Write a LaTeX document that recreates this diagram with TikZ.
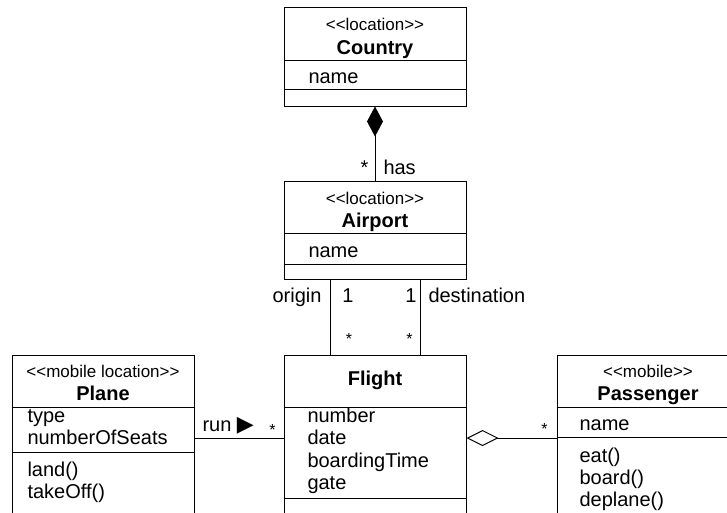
\documentclass[tikz,border=0pt]{standalone}
\usepackage{fontspec}
\setmainfont{Liberation Sans}[Ligatures=TeXOff]
\newfontfamily\dejavu{DejaVu Sans}
\usetikzlibrary{arrows.meta}
\begin{document}
\begin{tikzpicture}[x=1pt,y=-1pt, line width=1pt,
  classbox/.style={draw, rectangle, minimum width=182pt, inner sep=0pt},
  stereo/.style={font=\fontsize{17}{17}\selectfont, inner sep=0pt, anchor=base},
  cname/.style={font=\fontsize{20}{20}\selectfont\bfseries, inner sep=0pt, anchor=base},
  member/.style={font=\fontsize{20}{20}\selectfont, inner sep=0pt, anchor=base west},
  lbl/.style={font=\fontsize{20}{20}\selectfont, inner sep=0pt},
  mult/.style={font=\fontsize{16}{16}\selectfont, inner sep=0pt, anchor=base},
]
\useasboundingbox (0,0) rectangle (727,512);
\clip (0,0) rectangle (727,512);

% Country
\node[classbox, minimum height=99pt] (country) at (375,56.5) {};
\draw ([yshift=-54pt]country.north west) -- ([yshift=-54pt]country.north east);
\draw ([yshift=-83pt]country.north west) -- ([yshift=-83pt]country.north east);
\node[stereo] (countrys) at (375,30) {<<location>>};
\node[cname] (countryn) at (375,54) {Country};
\node[member] (countrya) at (308,83) {name};

% Airport
\node[classbox, minimum height=98pt] (airport) at (375,230) {};
\draw ([yshift=-53pt]airport.north west) -- ([yshift=-53pt]airport.north east);
\draw ([yshift=-84pt]airport.north west) -- ([yshift=-84pt]airport.north east);
\node[stereo] (airports) at (375,204) {<<location>>};
\node[cname] (airportn) at (375,227.5) {Airport};
\node[member] (airporta) at (308,257) {name};

% Plane
\node[classbox, minimum height=166pt] (plane) at (103,438) {};
\draw ([yshift=-53pt]plane.north west) -- ([yshift=-53pt]plane.north east);
\draw ([yshift=-98pt]plane.north west) -- ([yshift=-98pt]plane.north east);
\node[stereo] (planes) at (103,377) {<<mobile location>>};
\node[cname] (planen) at (103,400) {Plane};
\node[member] (planea1) at (27,422) {type};
\node[member] (planea2) at (27,444.5) {numberOfSeats};
\node[member] (planeo1) at (27,476) {land()};
\node[member] (planeo2) at (27,498.5) {takeOff()};

% Flight
\node[classbox, minimum height=166pt] (flight) at (375,438) {};
\draw ([yshift=-53pt]flight.north west) -- ([yshift=-53pt]flight.north east);
\draw ([yshift=-144pt]flight.north west) -- ([yshift=-144pt]flight.north east);
\node[cname] (flightn) at (375,385) {Flight};
\node[member] (flighta1) at (307,422) {number};
\node[member] (flighta2) at (307,444.5) {date};
\node[member] (flighta3) at (307,467) {boardingTime};
\node[member] (flighta4) at (307,489.5) {gate};

% Passenger
\node[classbox, minimum height=166pt] (passenger) at (648,438) {};
\draw ([yshift=-53pt]passenger.north west) -- ([yshift=-53pt]passenger.north east);
\draw ([yshift=-83pt]passenger.north west) -- ([yshift=-83pt]passenger.north east);
\node[stereo] (passengers) at (648,377) {<<mobile>>};
\node[cname] (passengern) at (648,400) {Passenger};
\node[member] (passengera) at (579,430) {name};
\node[member] (passengero1) at (579,462) {eat()};
\node[member] (passengero2) at (579,484) {board()};
\node[member] (passengero3) at (579,506) {deplane()};

% Connectors
\draw[-{Diamond[length=30pt,width=16pt]}] (airport) -- (country);
\draw ([xshift=-45pt]airport.south) -- ([xshift=-45pt]flight.north);
\draw ([xshift=45pt]airport.south) -- ([xshift=45pt]flight.north);
\draw (plane) -- (flight);
\draw[-{Diamond[open,length=32pt,width=16pt]}] (passenger) -- (flight);

% Labels
\node[lbl, anchor=base east] (hasm) at (369,174) {*};
\node[lbl, anchor=base west] (has) at (383,174) {has};
\node[lbl, anchor=base east] (origin) at (322,302) {origin};
\node[lbl, anchor=base] (originm) at (348,302) {1};
\node[lbl, anchor=base] (destm) at (411,302) {1};
\node[lbl, anchor=base west] (dest) at (428,302) {destination};
\node[mult] (originf) at (349,344.5) {*};
\node[mult] (destf) at (409.5,344.5) {*};
\node[lbl, anchor=base west] (run) at (202,431) {run {\dejavu\fontsize{22}{22}\selectfont ▶}};
\node[mult] (runm) at (272.5,435.5) {*};
\node[mult] (aggm) at (544.5,434.5) {*};
\end{tikzpicture}
\end{document}
